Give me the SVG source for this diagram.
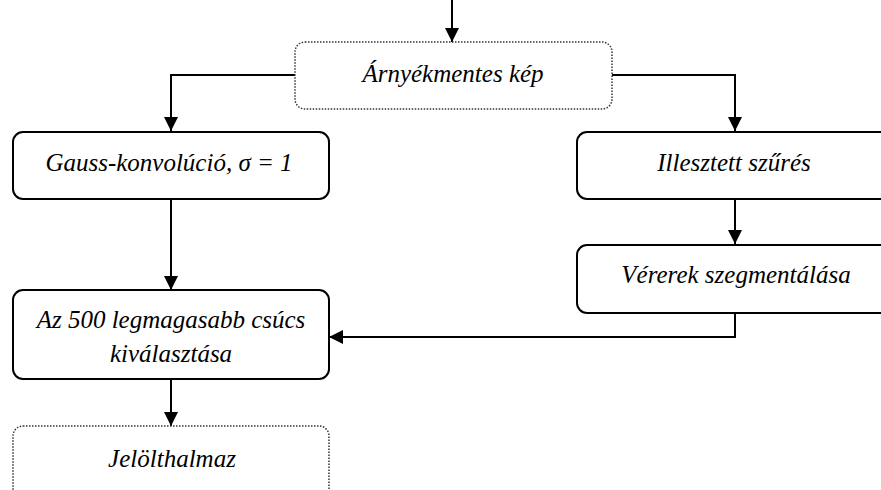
<svg xmlns="http://www.w3.org/2000/svg" width="881" height="490" viewBox="0 0 881 490">
<defs>
<marker id="ah" markerWidth="14" markerHeight="14" refX="14" refY="7" orient="auto" markerUnits="userSpaceOnUse">
<path d="M0,0 L14,7 L0,14 Z" fill="#000"/>
</marker>
<style>
.box{fill:#fff;stroke:#000;stroke-width:2}
.dot{fill:#fff;stroke:#333;stroke-width:1.5;stroke-dasharray:1.5 1.5}
.lbl{font-family:"Liberation Serif","Times New Roman",serif;font-style:italic;font-size:25px;fill:#000;text-anchor:middle}
.con{fill:none;stroke:#000;stroke-width:2}
</style>
</defs>
<rect width="881" height="490" fill="#fff"/>
<g id="connectors">
<path class="con" d="M452,0 L452,42" marker-end="url(#ah)"/>
<path class="con" d="M295,75 L171,75 L171,131" marker-end="url(#ah)"/>
<path class="con" d="M612,75 L735,75 L735,131" marker-end="url(#ah)"/>
<path class="con" d="M171,199 L171,290" marker-end="url(#ah)"/>
<path class="con" d="M735,199 L735,244" marker-end="url(#ah)"/>
<path class="con" d="M735,313 L735,337 L329,337" marker-end="url(#ah)"/>
<path class="con" d="M171,379 L171,426" marker-end="url(#ah)"/>
</g>
<g id="n_arnyekmentes">
<rect class="dot" x="295" y="42" width="317" height="67" rx="10"/>
<text class="lbl" x="453" y="82">Árnyékmentes kép</text>
</g>
<g id="n_gauss">
<rect class="box" x="13" y="132" width="316" height="67" rx="10"/>
<text class="lbl" x="169" y="171">Gauss-konvolúció, σ = 1</text>
</g>
<g id="n_illesztett">
<rect class="box" x="577" y="132" width="316" height="67" rx="10"/>
<text class="lbl" x="734" y="171">Illesztett szűrés</text>
</g>
<g id="n_vererek">
<rect class="box" x="577" y="245" width="316" height="68" rx="10"/>
<text class="lbl" x="736" y="283">Vérerek szegmentálása</text>
</g>
<g id="n_az500">
<rect class="box" x="13" y="290" width="316" height="89" rx="10"/>
<text class="lbl" x="171" y="328">Az 500 legmagasabb csúcs</text>
<text class="lbl" x="171" y="362">kiválasztása</text>
</g>
<g id="n_jelolt">
<rect class="dot" x="13" y="426" width="316" height="80" rx="10"/>
<text class="lbl" x="172" y="467">Jelölthalmaz</text>
</g>
</svg>
